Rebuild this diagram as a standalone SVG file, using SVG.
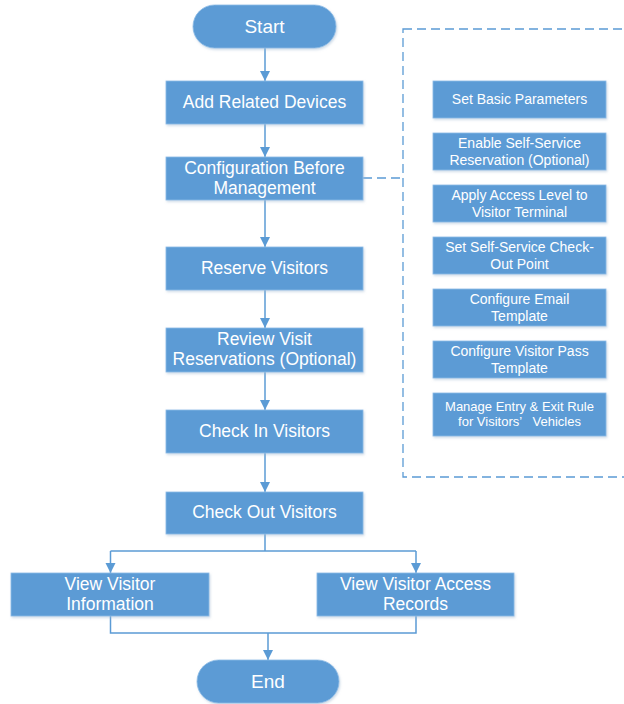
<svg xmlns="http://www.w3.org/2000/svg" width="624" height="704" viewBox="0 0 624 704">
<defs>
<style>
.box{fill:#5B9BD5;stroke:#8DBBE6;stroke-width:0.8;filter:url(#sh)}
.t{fill:#ffffff;font-family:"Liberation Sans","Open Sans",sans-serif;font-size:17.5px;text-anchor:middle}
.ts{fill:#ffffff;font-family:"Liberation Sans","Open Sans",sans-serif;font-size:14px;text-anchor:middle}
.tx{fill:#ffffff;font-family:"Liberation Sans","Open Sans",sans-serif;font-size:13px;text-anchor:middle}
.tb{fill:#ffffff;font-family:"Liberation Sans","Open Sans",sans-serif;font-size:19px;text-anchor:middle}
.ln{fill:none;stroke:#5B9BD5;stroke-width:1.5}
.dash{fill:none;stroke:#5B9BD5;stroke-width:1.3;stroke-dasharray:9,5}
</style>
<filter id="sh" x="-10%" y="-10%" width="125%" height="140%">
<feDropShadow dx="1" dy="1.5" stdDeviation="1.2" flood-color="#9fb8d0" flood-opacity="0.5"/>
</filter>
<marker id="ar" markerWidth="10" markerHeight="11" refX="10" refY="5" orient="auto" markerUnits="userSpaceOnUse">
<path d="M0,0 L10,5 L0,10 Z" fill="#5B9BD5"/>
</marker>
</defs>

<g id="connectors">
<line class="ln" x1="265" y1="48" x2="265" y2="81" marker-end="url(#ar)"/>
<line class="ln" x1="265" y1="124" x2="265" y2="157" marker-end="url(#ar)"/>
<line class="ln" x1="265" y1="200" x2="265" y2="247" marker-end="url(#ar)"/>
<line class="ln" x1="265" y1="290" x2="265" y2="328" marker-end="url(#ar)"/>
<line class="ln" x1="265" y1="372" x2="265" y2="410" marker-end="url(#ar)"/>
<line class="ln" x1="265" y1="453" x2="265" y2="492" marker-end="url(#ar)"/>
<polyline class="ln" points="265,534 265,551"/>
<polyline class="ln" points="110.5,551 416,551"/>
<line class="ln" x1="110.5" y1="551" x2="110.5" y2="573" marker-end="url(#ar)"/>
<line class="ln" x1="416" y1="551" x2="416" y2="573" marker-end="url(#ar)"/>
<polyline class="ln" points="110.5,616 110.5,633 416,633 416,616"/>
<line class="ln" x1="268" y1="633" x2="268" y2="660" marker-end="url(#ar)"/>
<line class="dash" x1="363" y1="178" x2="403" y2="178"/>
<rect class="dash" x="403" y="29" width="240" height="448"/>
</g>

<g id="start"><rect class="box" x="193" y="5" width="143" height="43" rx="21.5"/><text class="tb" x="264.5" y="33">Start</text></g>
<g id="add-devices"><rect class="box" x="166" y="81" width="197" height="43"/><text class="t" x="264.5" y="108">Add Related Devices</text></g>
<g id="config"><rect class="box" x="166" y="157" width="197" height="43"/><text class="t" x="264.5" y="173.5">Configuration Before</text><text class="t" x="264.5" y="193.5">Management</text></g>
<g id="reserve"><rect class="box" x="166" y="247" width="197" height="43"/><text class="t" x="264.5" y="274">Reserve Visitors</text></g>
<g id="review"><rect class="box" x="166" y="328" width="197" height="44"/><text class="t" x="264.5" y="345">Review Visit</text><text class="t" x="264.5" y="365">Reservations (Optional)</text></g>
<g id="checkin"><rect class="box" x="166" y="410" width="197" height="43"/><text class="t" x="264.5" y="437">Check In Visitors</text></g>
<g id="checkout"><rect class="box" x="166" y="492" width="197" height="42"/><text class="t" x="264.5" y="518">Check Out Visitors</text></g>
<g id="view-info"><rect class="box" x="11" y="573" width="198" height="43"/><text class="t" x="110" y="590">View Visitor</text><text class="t" x="110" y="610">Information</text></g>
<g id="view-records"><rect class="box" x="317" y="573" width="197" height="43"/><text class="t" x="415.5" y="590">View Visitor Access</text><text class="t" x="415.5" y="610">Records</text></g>
<g id="end"><rect class="box" x="197" y="660" width="142" height="43" rx="21.5"/><text class="tb" x="268" y="688">End</text></g>

<g id="set-basic"><rect class="box" x="433" y="81" width="173" height="37"/><text class="ts" x="519.5" y="104">Set Basic Parameters</text></g>
<g id="enable-self"><rect class="box" x="433" y="133" width="173" height="37"/><text class="ts" x="519.5" y="148">Enable Self-Service</text><text class="ts" x="519.5" y="164.5">Reservation (Optional)</text></g>
<g id="apply-access"><rect class="box" x="433" y="185" width="173" height="37"/><text class="ts" x="519.5" y="200">Apply Access Level to</text><text class="ts" x="519.5" y="216.5">Visitor Terminal</text></g>
<g id="checkout-point"><rect class="box" x="433" y="237" width="173" height="37"/><text class="ts" x="519.5" y="252">Set Self-Service Check-</text><text class="ts" x="519.5" y="268.5">Out Point</text></g>
<g id="email-template"><rect class="box" x="433" y="289" width="173" height="37"/><text class="ts" x="519.5" y="304">Configure Email</text><text class="ts" x="519.5" y="320.5">Template</text></g>
<g id="pass-template"><rect class="box" x="433" y="341" width="173" height="37"/><text class="ts" x="519.5" y="356">Configure Visitor Pass</text><text class="ts" x="519.5" y="372.5">Template</text></g>
<g id="vehicle-rule"><rect class="box" x="433" y="393" width="173" height="43"/><text class="tx" x="519.5" y="411">Manage Entry &amp; Exit Rule</text><text class="tx" x="519.5" y="426" xml:space="preserve">for Visitors’   Vehicles</text></g>
</svg>
